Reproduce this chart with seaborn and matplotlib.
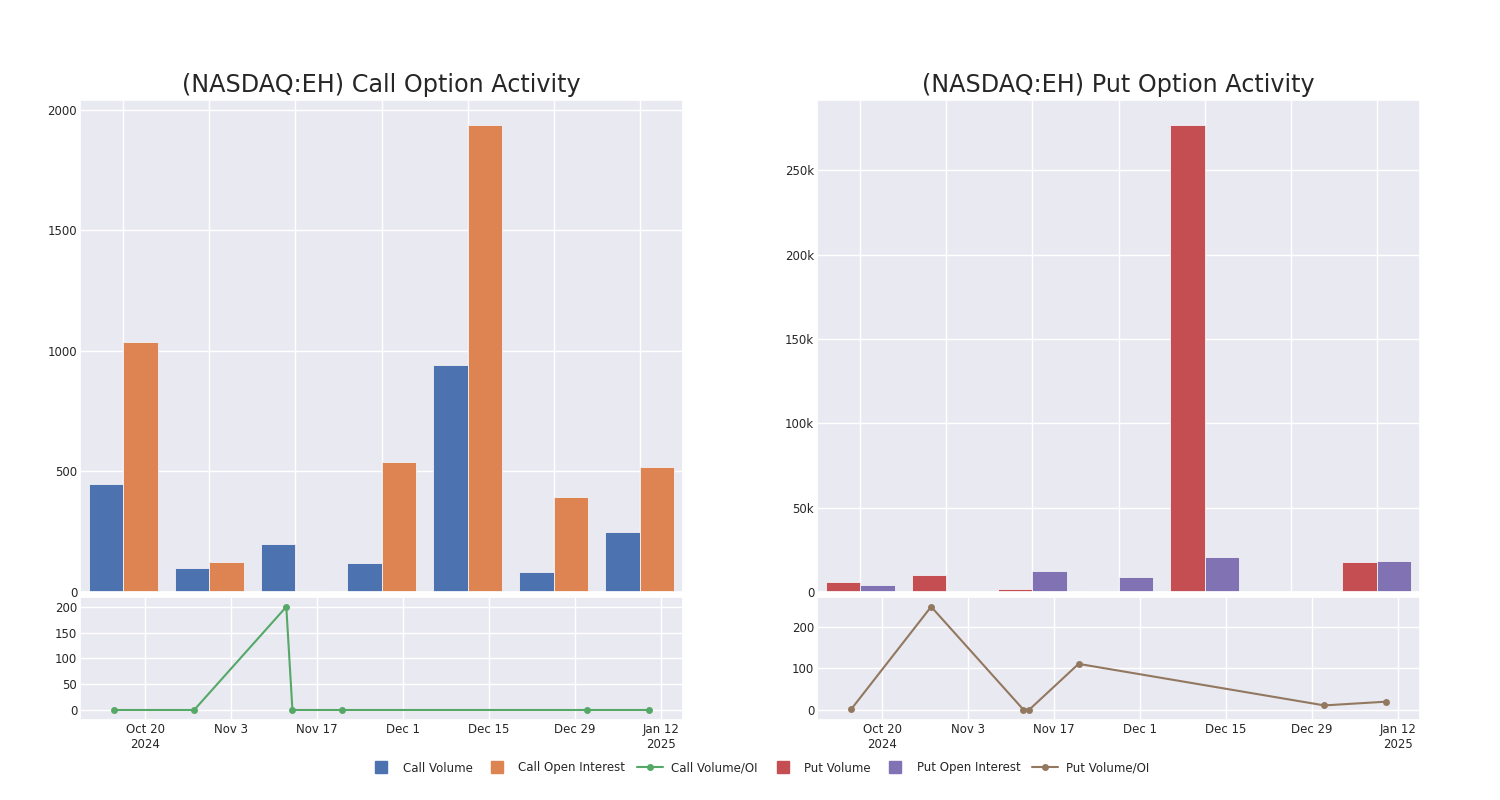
import pandas as pd
import numpy as np
import seaborn as sns
import matplotlib.pyplot as plt
from matplotlib.lines import Line2D
from matplotlib.ticker import FuncFormatter

# bar groups (7 expiries, unlabeled on the bar charts)
groups = ['g1', 'g2', 'g3', 'g4', 'g5', 'g6', 'g7']
call_volume = [446, 100, 200, 122, 942, 81, 249]
call_oi = [1035, 123, 3, 538, 1936, 394, 518]
put_volume = [6000, 10300, 1800, 800, 276800, 200, 17800]
put_oi = [4400, 100, 12300, 8900, 21000, 0, 18400]

# volume / OI ratio lines
ratio_dates = ['2024-10-15', '2024-10-28', '2024-11-12', '2024-11-13',
               '2024-11-21', '2024-12-31', '2025-01-10']
call_ratio = [0, 0, 200, 0, 0, 0, 0]
put_ratio = [1, 250, 0, 0, 111, 10, 19]

tick_dates = ['2024-10-20', '2024-11-03', '2024-11-17', '2024-12-01',
              '2024-12-15', '2024-12-29', '2025-01-12']
tick_labels = ['Oct 20\n2024', 'Nov 3', 'Nov 17', 'Dec 1', 'Dec 15',
               'Dec 29', 'Jan 12\n2025']

pal = sns.color_palette('deep')
c_blue, c_orange, c_green, c_red, c_purple, c_brown = pal[0], pal[1], pal[2], pal[3], pal[4], pal[5]

sns.set_theme(style='darkgrid')
plt.rcParams['font.family'] = ['DejaVu Sans']
plt.rcParams['axes.facecolor'] = '#E9E9F1'

fig = plt.figure(figsize=(15, 8), dpi=100)
W, H = 1500, 800


def px_axes(x0, y0, x1, y1):
    return fig.add_axes([x0 / W, (H - y1) / H, (x1 - x0) / W, (y1 - y0) / H])


ax_cb = px_axes(80, 100, 683, 592)
ax_cl = px_axes(80, 597, 683, 720)
ax_pb = px_axes(817, 100, 1420, 592)
ax_pl = px_axes(817, 597, 1420, 720)

call_df = pd.DataFrame({
    'group': groups * 2,
    'value': call_volume + call_oi,
    'kind': ['Call Volume'] * 7 + ['Call Open Interest'] * 7,
})
put_df = pd.DataFrame({
    'group': groups * 2,
    'value': put_volume + put_oi,
    'kind': ['Put Volume'] * 7 + ['Put Open Interest'] * 7,
})

sns.barplot(data=call_df, x='group', y='value', hue='kind', ax=ax_cb,
            palette=[c_blue, c_orange], width=0.8, saturation=1,
            edgecolor='#f2f2f6', linewidth=0.6, legend=False)
sns.barplot(data=put_df, x='group', y='value', hue='kind', ax=ax_pb,
            palette=[c_red, c_purple], width=0.8, saturation=1,
            edgecolor='#f2f2f6', linewidth=0.6, legend=False)

for ax, top in [(ax_cb, 2040), (ax_pb, 291700)]:
    ax.set_ylim(0, top)
    ax.set_xlim(-0.5, 6.5)
    ax.grid(True, axis='both', color='white', linewidth=1)
    ax.set_axisbelow(True)
    ax.set_xticklabels([])
    ax.set_xlabel('')
    ax.set_ylabel('')
    ax.tick_params(axis='y', labelsize=8.5, length=0, pad=2)
    ax.tick_params(axis='x', length=0)

ax_cb.set_yticks([0, 500, 1000, 1500, 2000])
ax_pb.set_yticks([0, 50000, 100000, 150000, 200000, 250000])
ax_pb.yaxis.set_major_formatter(FuncFormatter(
    lambda v, p: '0' if v == 0 else f'{int(v / 1000)}k'))

ax_cb.set_title('(NASDAQ:EH) Call Option Activity', fontsize=17.2, pad=6)
ax_pb.set_title('(NASDAQ:EH) Put Option Activity', fontsize=17.2, pad=6)

call_line = pd.DataFrame({'date': pd.to_datetime(ratio_dates), 'ratio': call_ratio})
put_line = pd.DataFrame({'date': pd.to_datetime(ratio_dates), 'ratio': put_ratio})

sns.lineplot(data=call_line, x='date', y='ratio', ax=ax_cl, color=c_green,
             marker='o', markersize=5, markeredgewidth=0, linewidth=1.5)
sns.lineplot(data=put_line, x='date', y='ratio', ax=ax_pl, color=c_brown,
             marker='o', markersize=5, markeredgewidth=0, linewidth=1.5)

ax_cl.set_ylim(-19.4, 219)
ax_cl.set_yticks([0, 50, 100, 150, 200])
ax_pl.set_ylim(-25.5, 273.6)
ax_pl.set_yticks([0, 100, 200])

for ax in [ax_cl, ax_pl]:
    ax.set_xlim(pd.Timestamp('2024-10-09 10:00'), pd.Timestamp('2025-01-15 14:00'))
    ax.set_xticks(pd.to_datetime(tick_dates))
    ax.set_xticklabels(tick_labels, linespacing=1.25)
    ax.set_xlabel('')
    ax.set_ylabel('')
    ax.tick_params(axis='x', labelsize=8.5, length=0, pad=2)
    ax.tick_params(axis='y', labelsize=8.5, length=0, pad=2)

handles = [
    Line2D([], [], marker='s', linestyle='', color=c_blue, markersize=9),
    Line2D([], [], marker='s', linestyle='', color=c_orange, markersize=9),
    Line2D([], [], marker='o', color=c_green, markersize=4, linewidth=1.5),
    Line2D([], [], marker='s', linestyle='', color=c_red, markersize=9),
    Line2D([], [], marker='s', linestyle='', color=c_purple, markersize=9),
    Line2D([], [], marker='o', color=c_brown, markersize=4, linewidth=1.5),
]
labels = ['Call Volume', 'Call Open Interest', 'Call Volume/OI',
          'Put Volume', 'Put Open Interest', 'Put Volume/OI']
fig.legend(handles, labels, loc='center', bbox_to_anchor=(0.506, 0.04),
           ncol=6, frameon=False, fontsize=8.5, handlelength=2.2,
           columnspacing=1.0, handletextpad=0.7)

fig.savefig('out.png', dpi=100, facecolor='white')
